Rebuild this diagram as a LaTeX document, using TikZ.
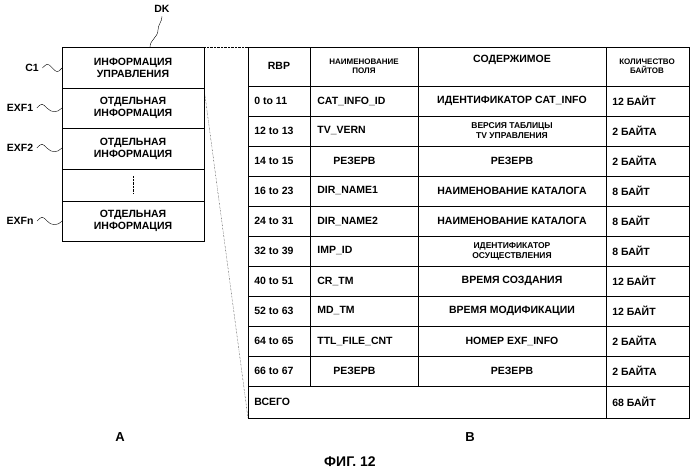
\documentclass[tikz,border=0pt]{standalone}
\usepackage{fontspec}
\setmainfont{Liberation Sans}
\usetikzlibrary{positioning}
\begin{document}
\begin{tikzpicture}[x=1pt,y=-1pt,thick,font=\bfseries\fontsize{10.5}{12}\selectfont,
  cell/.style={align=center,inner sep=1pt},
  small/.style={font=\bfseries\fontsize{8}{9}\selectfont,align=center},
  twoline/.style={cell,font=\bfseries\fontsize{8.5}{10}\selectfont},
  dotline/.style={densely dotted,thin},
  lead/.style={thin}]
  \useasboundingbox (0,0) rectangle (699,472);

  % left block
  \draw (62,47) rectangle (204,241);
  \foreach \y in {88,128,169,201} \draw (62,\y) -- (204,\y);
  \node[cell] (c1) at (133,67.5) {ИНФОРМАЦИЯ\\УПРАВЛЕНИЯ};
  \node[cell] (e1) at (133,108) {ОТДЕЛЬНАЯ\\ИНФОРМАЦИЯ};
  \node[cell] (e2) at (133,148.5) {ОТДЕЛЬНАЯ\\ИНФОРМАЦИЯ};
  \draw[dotline] (133,176) -- (133,194);
  \node[cell] (en) at (133,221) {ОТДЕЛЬНАЯ\\ИНФОРМАЦИЯ};

  \node (dk) at (162,9) {DK};
  \node (lc1) at (32,68) {C1};
  \node (lx1) at (20,108) {EXF1};
  \node (lx2) at (20,148) {EXF2};
  \node (lxn) at (20,221) {EXFn};
  \coordinate (dkend) at (150,47);
  \draw[lead] (dk.south) to[out=-90,in=90] (158,30) to[out=-90,in=90] (dkend);
  \foreach \l/\y in {lc1/68,lx1/108,lx2/148,lxn/221}
    \draw[lead] (\l.east) .. controls +(5,-5) and +(-5,-5) .. +(10,0)
       .. controls +(5,5) and +(-5,5) .. (62,\y);

  % zoom lines
  \draw[dotline] (204,47) -- (248,47);
  \draw[dotline] (204,88) -- (248,418);

  % table
  \draw (248,47) rectangle (689,418);
  \foreach \y in {86,116,146,176,206,236,266,296,326,356,386} \draw (248,\y) -- (689,\y);
  \draw (310,47) -- (310,386);
  \draw (418,47) -- (418,386);
  \draw (606,47) -- (606,418);

  \node[cell] (hr) at (279,66) {RBP};
  \node[small] (hf) at (364,66) {НАИМЕНОВАНИЕ\\ПОЛЯ};
  \node[cell] (hc) at (512,60) {СОДЕРЖИМОЕ};
  \node[small] (hb) at (647,66) {КОЛИЧЕСТВО\\БАЙТОВ};

  \foreach \i/\r/\f/\s/\c/\b in {
    0/0 to 11/CAT\_INFO\_ID/cell/ИДЕНТИФИКАТОР CAT\_INFO/12 БАЙТ,
    1/12 to 13/TV\_VERN/twoline/ВЕРСИЯ ТАБЛИЦЫ\\TV УПРАВЛЕНИЯ/2 БАЙТА,
    2/14 to 15/\hspace{16pt}РЕЗЕРВ/cell/РЕЗЕРВ/2 БАЙТА,
    3/16 to 23/DIR\_NAME1/cell/НАИМЕНОВАНИЕ КАТАЛОГА/8 БАЙТ,
    4/24 to 31/DIR\_NAME2/cell/НАИМЕНОВАНИЕ КАТАЛОГА/8 БАЙТ,
    5/32 to 39/IMP\_ID/twoline/ИДЕНТИФИКАТОР\\ОСУЩЕСТВЛЕНИЯ/8 БАЙТ,
    6/40 to 51/CR\_TM/cell/ВРЕМЯ СОЗДАНИЯ/12 БАЙТ,
    7/52 to 63/MD\_TM/cell/ВРЕМЯ МОДИФИКАЦИИ/12 БАЙТ,
    8/64 to 65/TTL\_FILE\_CNT/cell/НОМЕР EXF\_INFO/2 БАЙТА,
    9/66 to 67/\hspace{16pt}РЕЗЕРВ/cell/РЕЗЕРВ/2 БАЙТА} {
    \node[anchor=west,cell] (r\i) at (253,101+30*\i) {\r};
    \node[anchor=west,cell] (f\i) at (316,101+30*\i) {\f};
    \node[\s] (c\i) at (512,101+30*\i) {\c};
    \node[anchor=west,cell] (b\i) at (611,101+30*\i) {\b};
  }
  \node[anchor=west,cell] (tot) at (253,402) {ВСЕГО};
  \node[anchor=west,cell] (totb) at (611,402) {68 БАЙТ};

  \node[font=\bfseries\fontsize{13}{14}\selectfont] (capA) at (120,437) {A};
  \node[font=\bfseries\fontsize{13}{14}\selectfont] (capB) at (470,437) {B};
  \node[font=\bfseries\fontsize{14}{15}\selectfont] (fig) at (350,462) {ФИГ. 12};
\end{tikzpicture}
\end{document}
